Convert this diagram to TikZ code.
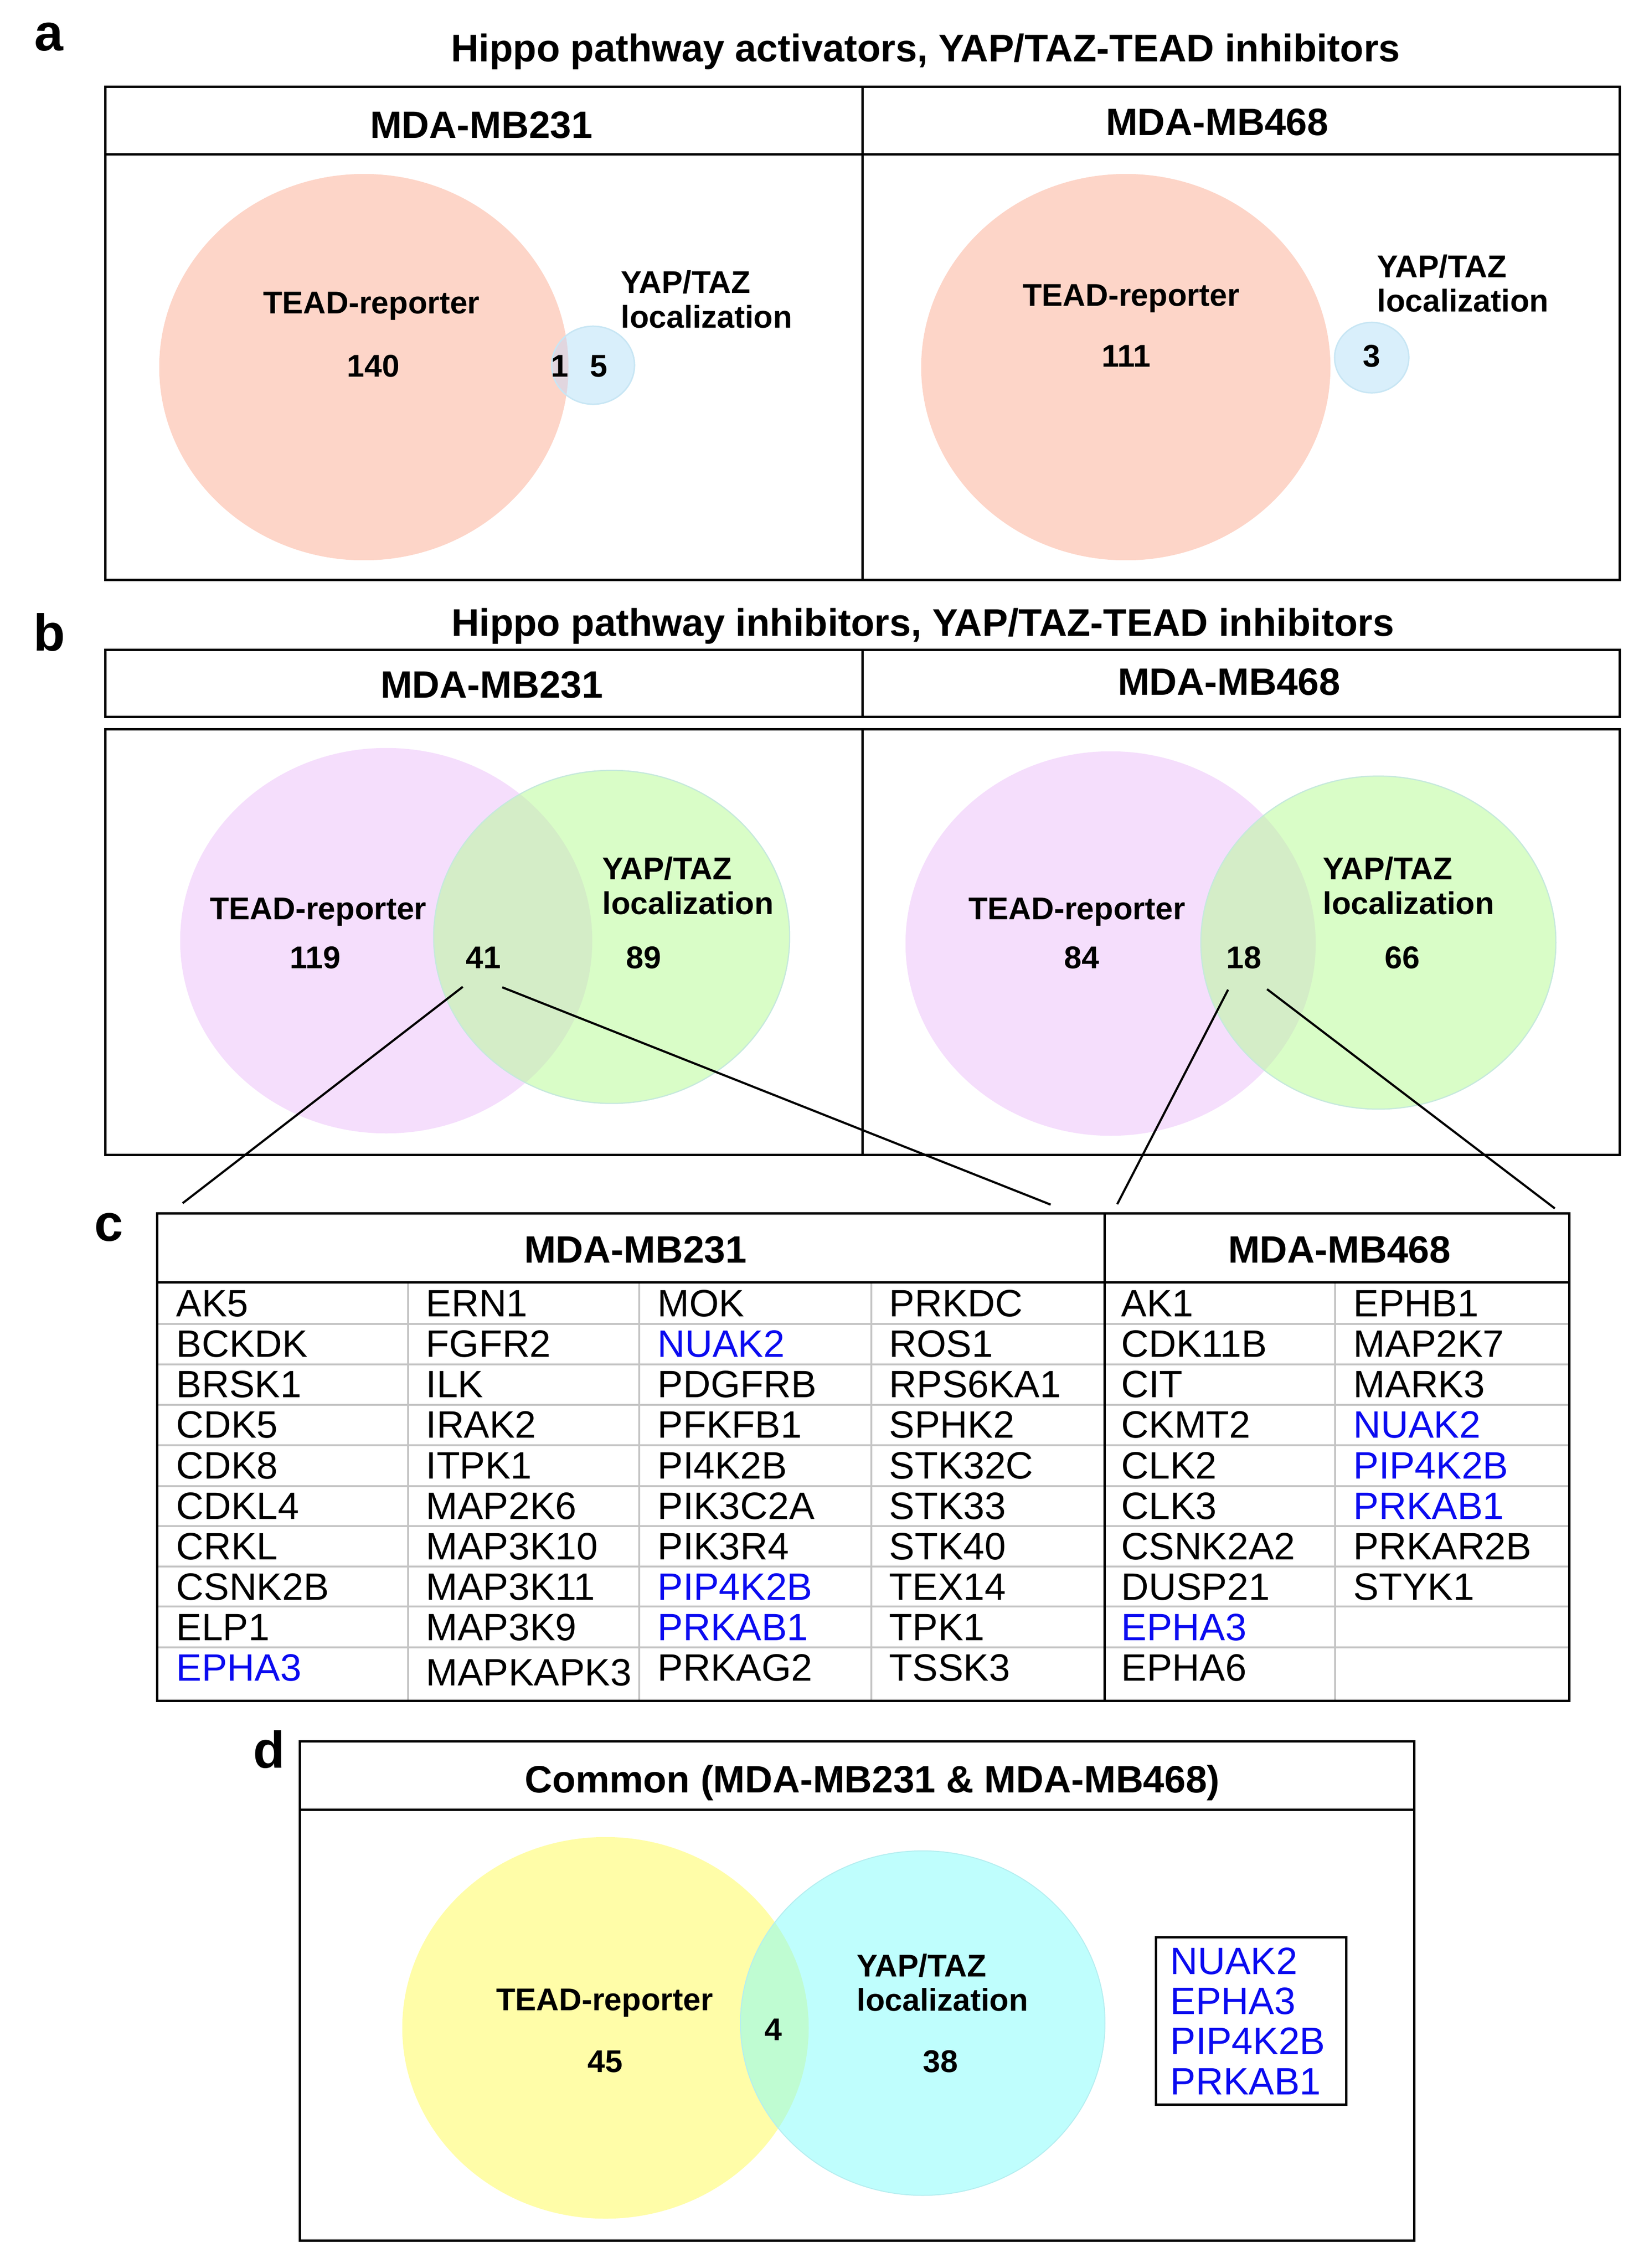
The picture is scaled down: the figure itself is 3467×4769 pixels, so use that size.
\documentclass[tikz,border=0pt]{standalone}
\usepackage{fontspec}
\setmainfont{Liberation Sans}
\definecolor{salmon}{HTML}{FDD5C8}
\definecolor{skyb}{HTML}{D9EFFB}
\definecolor{skybd}{HTML}{C8E6F4}
\definecolor{ovA}{HTML}{E1D6DF}
\definecolor{lilac}{HTML}{F5DEFC}
\definecolor{lgreen}{HTML}{D9FDC7}
\definecolor{lgreend}{HTML}{C6E9DC}
\definecolor{ovB}{HTML}{D4EDC7}
\definecolor{lyellow}{HTML}{FFFDA8}
\definecolor{lcyan}{HTML}{BFFEFD}
\definecolor{lcyand}{HTML}{B5EEF0}
\definecolor{ovD}{HTML}{BFFCD2}
\definecolor{gblue}{HTML}{0A0AF0}
\definecolor{gridgray}{HTML}{C4C4C4}
\begin{document}
\begin{tikzpicture}[x=0.01cm,y=-0.01cm,
  frame/.style={draw=black,line width=0.05cm},
  gridline/.style={draw=gridgray,line width=0.045cm},
  conn/.style={draw=black,line width=0.045cm},
  plab/.style={font=\bfseries\fontsize{31}{31}\selectfont,inner sep=0pt,text depth=0pt},
  ttl/.style={font=\bfseries\fontsize{23}{23}\selectfont,inner sep=0pt,text height=16.5pt,text depth=0pt},
  hdr/.style={font=\bfseries\fontsize{22.8}{22.8}\selectfont,inner sep=0pt,text height=16.3pt,text depth=0pt},
  vl/.style={font=\bfseries\fontsize{18.8}{18.8}\selectfont,inner sep=0pt,text height=13.5pt,text depth=0pt},
  vlw/.style={vl,anchor=west},
  gene/.style={font=\fontsize{22.8}{22.8}\selectfont,inner sep=0pt,text height=16.3pt,text depth=0pt,anchor=west}
]
\useasboundingbox (0,0) rectangle (3467,4769);

% ---------------- panel a ----------------
\node[plab,text height=16pt] (la) at (103,78) {a};
\node[ttl] (ta) at (1946,100) {Hippo pathway activators, YAP/TAZ-TEAD inhibitors};
\fill[salmon] (765,772) ellipse [x radius=4.30cm, y radius=4.06cm];
\fill[skyb] (1247,768) ellipse [x radius=0.87cm, y radius=0.82cm];
\begin{scope}
  \clip (765,772) ellipse [x radius=4.30cm, y radius=4.06cm];
  \fill[ovA] (1247,768) ellipse [x radius=0.87cm, y radius=0.82cm];
\end{scope}
\draw[skybd,line width=0.03cm] (1247,768) ellipse [x radius=0.87cm, y radius=0.82cm];
\fill[salmon] (2367,772) ellipse [x radius=4.30cm, y radius=4.06cm];
\fill[skyb] (2884,752) ellipse [x radius=0.78cm, y radius=0.74cm];
\draw[skybd,line width=0.03cm] (2884,752) ellipse [x radius=0.78cm, y radius=0.74cm];
\draw[frame] (221,182) rectangle (3405,1219);
\draw[frame] (221,324) -- (3405,324);
\draw[frame] (1813,182) -- (1813,1219);
\node[hdr] (ha1) at (1012,262) {MDA-MB231};
\node[hdr] (ha2) at (2559,256) {MDA-MB468};
\node[vl] (a1t) at (781,636) {TEAD-reporter};
\node[vl] (a1n) at (785,769) {140};
\node[vl] (a1o) at (1177,769) {1};
\node[vl] (a1y) at (1259,769) {5};
\node[vlw] (a1l1) at (1305,593) {YAP/TAZ};
\node[vlw] (a1l2) at (1305,666) {localization};
\node[vl] (a2t) at (2378,620) {TEAD-reporter};
\node[vl] (a2n) at (2368,748) {111};
\node[vl] (a2y) at (2884,748) {3};
\node[vlw] (a2l1) at (2895,560) {YAP/TAZ};
\node[vlw] (a2l2) at (2895,632) {localization};

% ---------------- panel b ----------------
\node[plab,text height=22.5pt] (lb) at (104,1329) {b};
\node[ttl] (tb) at (1940,1308) {Hippo pathway inhibitors, YAP/TAZ-TEAD inhibitors};
\fill[lilac] (812,1978) ellipse [x radius=4.33cm, y radius=4.05cm];
\fill[lgreen] (1286,1970) ellipse [x radius=3.74cm, y radius=3.50cm];
\begin{scope}
  \clip (812,1978) ellipse [x radius=4.33cm, y radius=4.05cm];
  \fill[ovB] (1286,1970) ellipse [x radius=3.74cm, y radius=3.50cm];
\end{scope}
\draw[lgreend,line width=0.025cm] (1286,1970) ellipse [x radius=3.74cm, y radius=3.50cm];
\fill[lilac] (2335,1984) ellipse [x radius=4.31cm, y radius=4.04cm];
\fill[lgreen] (2898,1982) ellipse [x radius=3.73cm, y radius=3.50cm];
\begin{scope}
  \clip (2335,1984) ellipse [x radius=4.31cm, y radius=4.04cm];
  \fill[ovB] (2898,1982) ellipse [x radius=3.73cm, y radius=3.50cm];
\end{scope}
\draw[lgreend,line width=0.025cm] (2898,1982) ellipse [x radius=3.73cm, y radius=3.50cm];
\draw[frame] (221,1366) rectangle (3405,1507);
\draw[frame] (1813,1366) -- (1813,1507);
\draw[frame] (221,1533) rectangle (3405,2428);
\draw[frame] (1813,1533) -- (1813,2428);
\node[hdr] (hb1) at (1034,1439) {MDA-MB231};
\node[hdr] (hb2) at (2584,1433) {MDA-MB468};
\node[vl] (b1t) at (669,1910) {TEAD-reporter};
\node[vl] (b1n) at (663,2013) {119};
\node[vl] (b1o) at (1016,2013) {41};
\node[vl] (b1y) at (1353,2013) {89};
\node[vlw] (b1l1) at (1266,1826) {YAP/TAZ};
\node[vlw] (b1l2) at (1266,1899) {localization};
\node[vl] (b2t) at (2264,1910) {TEAD-reporter};
\node[vl] (b2n) at (2274,2013) {84};
\node[vl] (b2o) at (2615,2013) {18};
\node[vl] (b2y) at (2948,2013) {66};
\node[vlw] (b2l1) at (2781,1826) {YAP/TAZ};
\node[vlw] (b2l2) at (2781,1899) {localization};

% connectors
\coordinate (s1) at (973,2075);
\coordinate (s2) at (1056,2076);
\coordinate (s3) at (2582,2081);
\coordinate (s4) at (2664,2080);
\coordinate (e1) at (384,2530);
\coordinate (e2) at (2209,2533);
\coordinate (e3) at (2349,2532);
\coordinate (e4) at (3269,2541);
\draw[conn] (s1) -- (e1);
\draw[conn] (s2) -- (e2);
\draw[conn] (s3) -- (e3);
\draw[conn] (s4) -- (e4);

% ---------------- panel c ----------------
\node[plab,text height=16pt] (lc) at (229,2581) {c};
\foreach \yy in {2784,2869,2954,3039,3125,3209,3294,3378,3464}
  \draw[gridline] (330,\yy) -- (3299,\yy);
\foreach \xx in {858,1344,1832,2807}
  \draw[gridline] (\xx,2696) -- (\xx,3576);
\draw[frame] (330,2551) rectangle (3299,3576);
\draw[frame] (330,2696) -- (3299,2696);
\draw[frame] (2322,2551) -- (2322,3576);
\node[hdr] (hc1) at (1336,2627) {MDA-MB231};
\node[hdr] (hc2) at (2816,2627) {MDA-MB468};
\foreach \g/\c [count=\r] in {AK5/black,BCKDK/black,BRSK1/black,CDK5/black,CDK8/black,CDKL4/black,CRKL/black,CSNK2B/black,ELP1/black,EPHA3/gblue}{
  \pgfmathsetmacro\yy{2740+(\r-1)*85.1}
  \node[gene,text=\c] (ga\r) at (370,\yy) {\g};
}
\foreach \g/\c [count=\r] in {ERN1/black,FGFR2/black,ILK/black,IRAK2/black,ITPK1/black,MAP2K6/black,MAP3K10/black,MAP3K11/black,MAP3K9/black}{
  \pgfmathsetmacro\yy{2740+(\r-1)*85.1}
  \node[gene,text=\c] (gb\r) at (895,\yy) {\g};
}
\node[gene] (gb10) at (895,3516) {MAPKAPK3};
\foreach \g/\c [count=\r] in {MOK/black,NUAK2/gblue,PDGFRB/black,PFKFB1/black,PI4K2B/black,PIK3C2A/black,PIK3R4/black,PIP4K2B/gblue,PRKAB1/gblue,PRKAG2/black}{
  \pgfmathsetmacro\yy{2740+(\r-1)*85.1}
  \node[gene,text=\c] (gc\r) at (1382,\yy) {\g};
}
\foreach \g/\c [count=\r] in {PRKDC/black,ROS1/black,RPS6KA1/black,SPHK2/black,STK32C/black,STK33/black,STK40/black,TEX14/black,TPK1/black,TSSK3/black}{
  \pgfmathsetmacro\yy{2740+(\r-1)*85.1}
  \node[gene,text=\c] (gd\r) at (1869,\yy) {\g};
}
\foreach \g/\c [count=\r] in {AK1/black,CDK11B/black,CIT/black,CKMT2/black,CLK2/black,CLK3/black,CSNK2A2/black,DUSP21/black,EPHA3/gblue,EPHA6/black}{
  \pgfmathsetmacro\yy{2740+(\r-1)*85.1}
  \node[gene,text=\c] (ge\r) at (2357,\yy) {\g};
}
\foreach \g/\c [count=\r] in {EPHB1/black,MAP2K7/black,MARK3/black,NUAK2/gblue,PIP4K2B/gblue,PRKAB1/gblue,PRKAR2B/black,STYK1/black}{
  \pgfmathsetmacro\yy{2740+(\r-1)*85.1}
  \node[gene,text=\c] (gf\r) at (2845,\yy) {\g};
}

% ---------------- panel d ----------------
\node[plab,text height=22.5pt] (ld) at (566,3678) {d};
\fill[lyellow] (1273,4264) ellipse [x radius=4.27cm, y radius=4.01cm];
\fill[lcyan] (1940,4254) ellipse [x radius=3.83cm, y radius=3.62cm];
\begin{scope}
  \clip (1273,4264) ellipse [x radius=4.27cm, y radius=4.01cm];
  \fill[ovD] (1940,4254) ellipse [x radius=3.83cm, y radius=3.62cm];
\end{scope}
\draw[lcyand,line width=0.02cm] (1940,4254) ellipse [x radius=3.83cm, y radius=3.62cm];
\draw[frame] (630,3661) rectangle (2973,4711);
\draw[frame] (630,3805) -- (2973,3805);
\node[hdr] (hd) at (1834,3741) {Common (MDA-MB231 \& MDA-MB468)};
\node[vl] (d1t) at (1271,4204) {TEAD-reporter};
\node[vl] (d1n) at (1272,4334) {45};
\node[vl] (d1o) at (1626,4267) {4};
\node[vl] (d1y) at (1977,4334) {38};
\node[vlw] (d1l1) at (1801,4133) {YAP/TAZ};
\node[vlw] (d1l2) at (1801,4205) {localization};
\draw[frame] (2430,4073) rectangle (2830,4425);
\node[gene,text=gblue] (dg1) at (2460,4123) {NUAK2};
\node[gene,text=gblue] (dg2) at (2460,4207) {EPHA3};
\node[gene,text=gblue] (dg3) at (2460,4291) {PIP4K2B};
\node[gene,text=gblue] (dg4) at (2460,4376) {PRKAB1};
\end{tikzpicture}
\end{document}
